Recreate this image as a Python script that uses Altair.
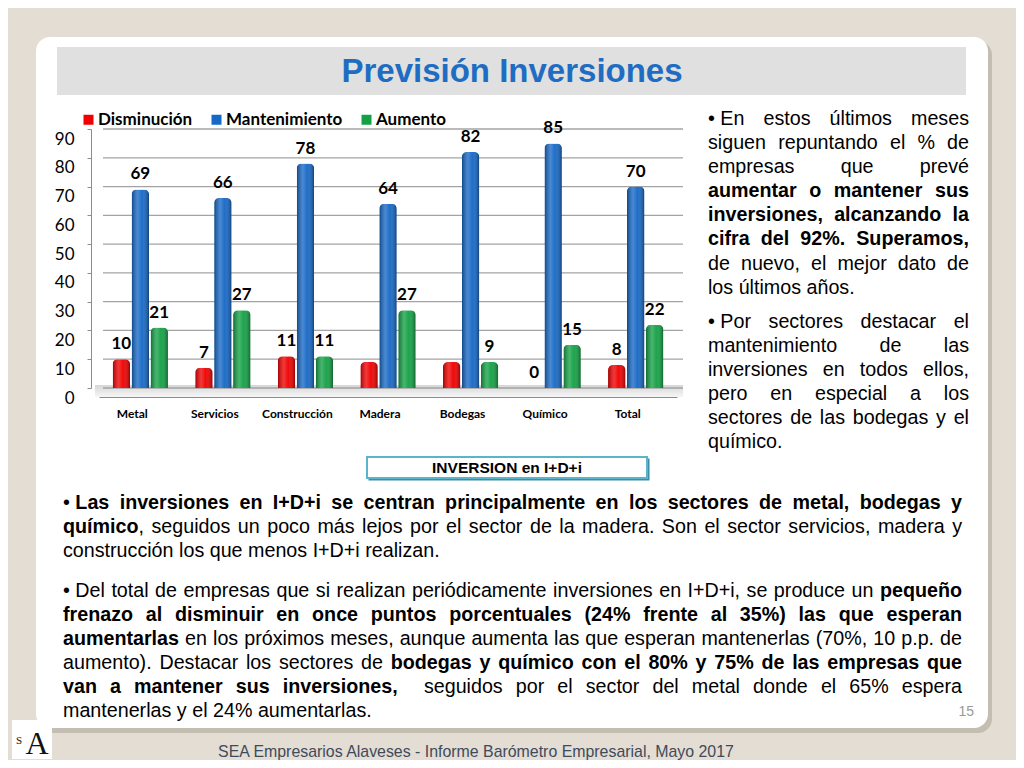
import altair as alt
import pandas as pd

# ---------------- data ----------------
sectores = ["Metal", "Servicios", "Construcción", "Madera", "Bodegas", "Químico", "Total"]
series = ["Disminución", "Mantenimiento", "Aumento"]
disminucion = [10, 7, 11, 9, 9, 0, 8]
mantenimiento = [69, 66, 78, 64, 82, 85, 70]
aumento = [21, 27, 11, 27, 9, 15, 22]
mostrar_disminucion = [True, True, True, False, False, True, True]
mostrar_mantenimiento = [True] * 7
mostrar_aumento = [True] * 7
ticks_y = [0, 10, 20, 30, 40, 50, 60, 70, 80, 90]
colores = ["#F00000", "#1668C6", "#14A145"]

titulo = "Previsión Inversiones"
caja = "INVERSION en I+D+i"
pie = "SEA Empresarios Alaveses  -  Informe Barómetro Empresarial, Mayo 2017"
pagina = "15"

derecha = [
    [
        [("\u2022\u00a0En estos últimos meses", False)],
        [("siguen repuntando el % de", False)],
        [("empresas que prevé", False)],
        [("aumentar o mantener sus", True)],
        [("inversiones, alcanzando la", True)],
        [("cifra del 92%. Superamos,", True)],
        [("de nuevo, el mejor dato de", False)],
        [("los últimos años.", False)],
    ],
    [
        [("\u2022\u00a0Por sectores destacar el", False)],
        [("mantenimiento de las", False)],
        [("inversiones en todos ellos,", False)],
        [("pero en especial a los", False)],
        [("sectores de las bodegas y el", False)],
        [("químico.", False)],
    ],
]
abajo = [
    [
        [("\u2022\u00a0", False), ("Las inversiones en I+D+i se centran principalmente en los sectores de metal, bodegas y", True)],
        [("químico", True), (", seguidos un poco más lejos por el sector de la madera. Son el sector servicios, madera y", False)],
        [("construcción los que menos I+D+i realizan.", False)],
    ],
    [
        [("\u2022\u00a0Del total de empresas que si realizan periódicamente inversiones en I+D+i, se produce un ", False), ("pequeño", True)],
        [("frenazo al disminuir en once puntos porcentuales (24% frente al 35%) las que esperan", True)],
        [("aumentarlas", True), (" en los próximos meses, aunque aumenta las que esperan mantenerlas (70%, 10 p.p. de", False)],
        [("aumento). Destacar los sectores de ", False), ("bodegas y químico con el 80% y 75% de las empresas que", True)],
        [("van a mantener sus inversiones,", True), ("  seguidos por el sector del metal donde el 65% espera", False)],
        [("mantenerlas y el 24% aumentarlas.", False)],
    ],
]

# ---------------- layout helpers ----------------
OX, OY = 99, 129          # page position of the plot origin
W, H = 578, 259           # plot area


def px(x):
    return x - OX


def py(y):
    return y - OY


REG_GROUPS = {
    191: "'", 222: "ijl", 278: " \u00a0!,./:;I[]ftí", 333: "()-r", 350: "\u2022",
    500: "ckszvxyJ", 556: "0123456789abdeghnopquáéóúñL?$", 584: "+<=>",
    611: "FTZ", 667: "ABEKPSVXY", 722: "CDHNRUw", 778: "GOQ", 833: "mM",
    889: "%", 944: "W",
}
BOLD_GROUPS = {
    238: "'", 278: " \u00a0!,./Iijlí", 333: "()-:;ft", 350: "\u2022", 389: "r",
    500: "z", 556: "0123456789aceksvxyáéJ?$", 584: "+<=>",
    611: "bdghnopquóúñFLTZ", 667: "EPSVXY", 722: "ABCDHKNRU", 778: "GOQw",
    833: "M", 889: "m%", 944: "W",
}
REG_W = {c: w for w, cs in REG_GROUPS.items() for c in cs}
BOLD_W = {c: w for w, cs in BOLD_GROUPS.items() for c in cs}


def cw(c, bold, size):
    return (BOLD_W if bold else REG_W).get(c, 556) / 1000.0 * size


def layout_line(runs, x0, x1, base, size, justify, out):
    chars = [(c, b) for t, b in runs for c in t]
    words = []
    spaces = 0
    cur = None
    for c, b in chars:
        if c == " ":
            if cur is not None:
                words.append(cur)
                cur = None
            spaces += 1
        else:
            if cur is None:
                cur = {"sp": spaces if words else 0, "pieces": []}
                spaces = 0
            if cur["pieces"] and cur["pieces"][-1][1] == b:
                cur["pieces"][-1][0] += c
            else:
                cur["pieces"].append([c, b])
    if cur is not None:
        words.append(cur)
    spw = 0.278 * size
    total = 0.0
    nsp = 0
    for wd in words:
        nsp += wd["sp"]
        total += wd["sp"] * spw
        for t, b in wd["pieces"]:
            total += sum(cw(c, b, size) for c in t)
    extra = (x1 - x0 - total) / nsp if (justify and nsp) else 0.0
    x = x0
    for wd in words:
        x += wd["sp"] * (spw + extra)
        for t, b in wd["pieces"]:
            out.append({"px": px(x), "py": py(base), "t": t, "bold": b})
            x += sum(cw(c, b, size) for c in t)


FS = 19.7
rows = []
for par, (first, step) in zip(derecha, [(125.2, 24.05), (328.4, 24.0)]):
    for i, line in enumerate(par):
        layout_line(line, 708, 969, first + i * step, FS, i < len(par) - 1, rows)
for par, (first, step) in zip(abajo, [(509.0, 24.0), (596.7, 24.0)]):
    for i, line in enumerate(par):
        layout_line(line, 63, 962, first + i * step, FS, i < len(par) - 1, rows)
texto = pd.DataFrame(rows)

# ---------------- bar data ----------------
registros = []
for serie, vals, show in zip(series, [disminucion, mantenimiento, aumento],
                             [mostrar_disminucion, mostrar_mantenimiento, mostrar_aumento]):
    for s, v, m in zip(sectores, vals, show):
        registros.append({"sector": s, "serie": serie, "valor": v, "etiqueta": str(v) if m else ""})
barras = pd.DataFrame(registros)
grid = pd.DataFrame({"valor": ticks_y})
one = pd.DataFrame({"k": [0]})

# ---------------- background ----------------
def rect(x1, x2, y1, y2, **kw):
    return alt.Chart(one).mark_rect(**kw).encode(
        x=alt.value(px(x1)), x2=alt.value(px(x2)), y=alt.value(py(y1)), y2=alt.value(py(y2)))


def label(txt, x, y, **kw):
    return alt.Chart(pd.DataFrame({"t": [txt]})).mark_text(**kw).encode(
        x=alt.value(px(x)), y=alt.value(py(y)), text="t:N")


fondo = [
    rect(39, 992, 41, 733, color="#BCB5A9", opacity=0.8, cornerRadius=14),
    rect(36, 988, 37, 728, color="#FFFFFF", cornerRadius=14),
    rect(57, 966, 47, 95, color="#E0E0E0"),
    label(titulo, 512, 72, align="center", baseline="middle", font="Liberation Sans",
          fontWeight="bold", fontSize=33, color="#1F6DC2"),
    rect(368.5, 649.5, 458.5, 480.5, color="#3C8DA6"),
    rect(367, 647, 457, 478, fill="#FFFFFF", stroke="#5BB3CC", strokeWidth=2),
    label(caja, 507, 468, align="center", baseline="middle", font="Liberation Sans",
          fontWeight="bold", fontSize=15.5, color="#000000"),
    label(pagina, 974, 712, align="right", baseline="middle", font="Liberation Sans",
          fontSize=14, color="#9A9A9A"),
    label(pie, 476, 752, align="center", baseline="middle", font="Liberation Sans",
          fontSize=15.9, color="#3F4A5C"),
    rect(12, 52, 720, 759, color="#FFFFFF"),
    label("S", 19, 744, align="center", baseline="alphabetic", font="Liberation Serif",
          fontSize=11, color="#111111"),
    label("A", 37, 754, align="center", baseline="alphabetic", font="Liberation Serif",
          fontSize=32, color="#111111"),
]

# ---------------- bar chart ----------------
xsc = alt.Scale(paddingInner=0.33, paddingOuter=0.165)
ysc = alt.Scale(domain=[0, 90], nice=False)
xaxis = alt.Axis(labelAngle=0, labelFont="Lato", labelFontWeight="bold",
                 labelFontSize=12, labelColor="#000000", offset=9, domain=True,
                 domainColor="#8C8C8C", domainWidth=1.2, ticks=False, grid=False,
                 labelOffset=-8, labelPadding=11, zindex=1)
yaxis = alt.Axis(values=ticks_y, grid=False, domain=True, domainColor="#8C8C8C",
                 ticks=True, tickSize=4, tickColor="#8C8C8C", offset=8, labelOffset=10,
                 labelPadding=13, labelFont="Lato", labelFontSize=17,
                 labelColor="#000000", zindex=1)


def X():
    return alt.X("sector:N", sort=sectores, scale=xsc, title=None, axis=xaxis)


def XO():
    return alt.XOffset("serie:N", sort=series, scale=alt.Scale(paddingInner=0.08))


def Y():
    return alt.Y("valor:Q", scale=ysc, title=None, axis=yaxis)


suelo = rect(95, 683, 385, 397, color=alt.LinearGradient(
    gradient="linear", x1=0, x2=0, y1=0, y2=1,
    stops=[alt.GradientStop(color="#D6D6D6", offset=0), alt.GradientStop(color="#F6F6F6", offset=1)]))

reglas = alt.Chart(grid).mark_rule(color="#A3A3A3", strokeWidth=1.3).encode(
    y=Y(), x=alt.value(4), x2=alt.value(W + 6))

base = alt.Chart(barras)
cuerpo = base.mark_bar(cornerRadiusTopLeft=5, cornerRadiusTopRight=5).encode(
    x=X(), xOffset=XO(), y=Y(),
    color=alt.Color("serie:N", sort=series, scale=alt.Scale(domain=series, range=colores),
                    legend=alt.Legend(orient="none", legendX=-19, legendY=-18,
                                      direction="horizontal", title=None, symbolType="square",
                                      symbolSize=100, symbolStrokeWidth=0, labelFont="Lato",
                                      labelFontWeight="bold", labelFontSize=17,
                                      labelColor="#000000", labelOffset=1, columnPadding=15,
                                      padding=0)))
brillo = base.mark_bar(cornerRadiusTopLeft=5, cornerRadiusTopRight=5, color=alt.LinearGradient(
    gradient="linear", x1=0, x2=1, y1=0, y2=0,
    stops=[alt.GradientStop(color="rgba(0,0,0,0.32)", offset=0),
           alt.GradientStop(color="rgba(255,255,255,0.22)", offset=0.35),
           alt.GradientStop(color="rgba(255,255,255,0.04)", offset=0.6),
           alt.GradientStop(color="rgba(0,0,0,0.38)", offset=1)])).encode(
    x=X(), xOffset=XO(), y=Y())
etiquetas = base.transform_filter(alt.datum.etiqueta != "").mark_text(
    baseline="bottom", dy=-6, font="Lato", fontWeight="bold", fontSize=17, color="#000000").encode(
    x=X(), xOffset=XO(), y=Y(), text="etiqueta:N")

grafico = alt.layer(suelo, reglas, cuerpo, brillo, etiquetas)

# ---------------- texts ----------------
def capa_texto(df, bold):
    return alt.Chart(df).mark_text(align="left", baseline="alphabetic", font="Liberation Sans",
                                   fontSize=FS, fontWeight="bold" if bold else "normal",
                                   color="#000000").encode(
        x=alt.X("px:Q", scale=None, axis=None), y=alt.Y("py:Q", scale=None, axis=None),
        text="t:N")


reg = texto[~texto["bold"]].reset_index(drop=True)
neg = texto[texto["bold"]].reset_index(drop=True)

chart = alt.layer(*fondo, grafico, capa_texto(reg, False), capa_texto(neg, True)).resolve_scale(
    x="independent", y="independent"
).properties(
    width=W, height=H,
    autosize=alt.AutoSizeParams(type="none"),
    padding={"left": OX - 8, "top": OY - 8, "right": 1008 - (OX - 8) - W, "bottom": 752 - (OY - 8) - H},
    background="#E3DDD3",
).configure_view(stroke=None)

chart.save("out.html", embed_options={"renderer": "svg", "actions": False})
